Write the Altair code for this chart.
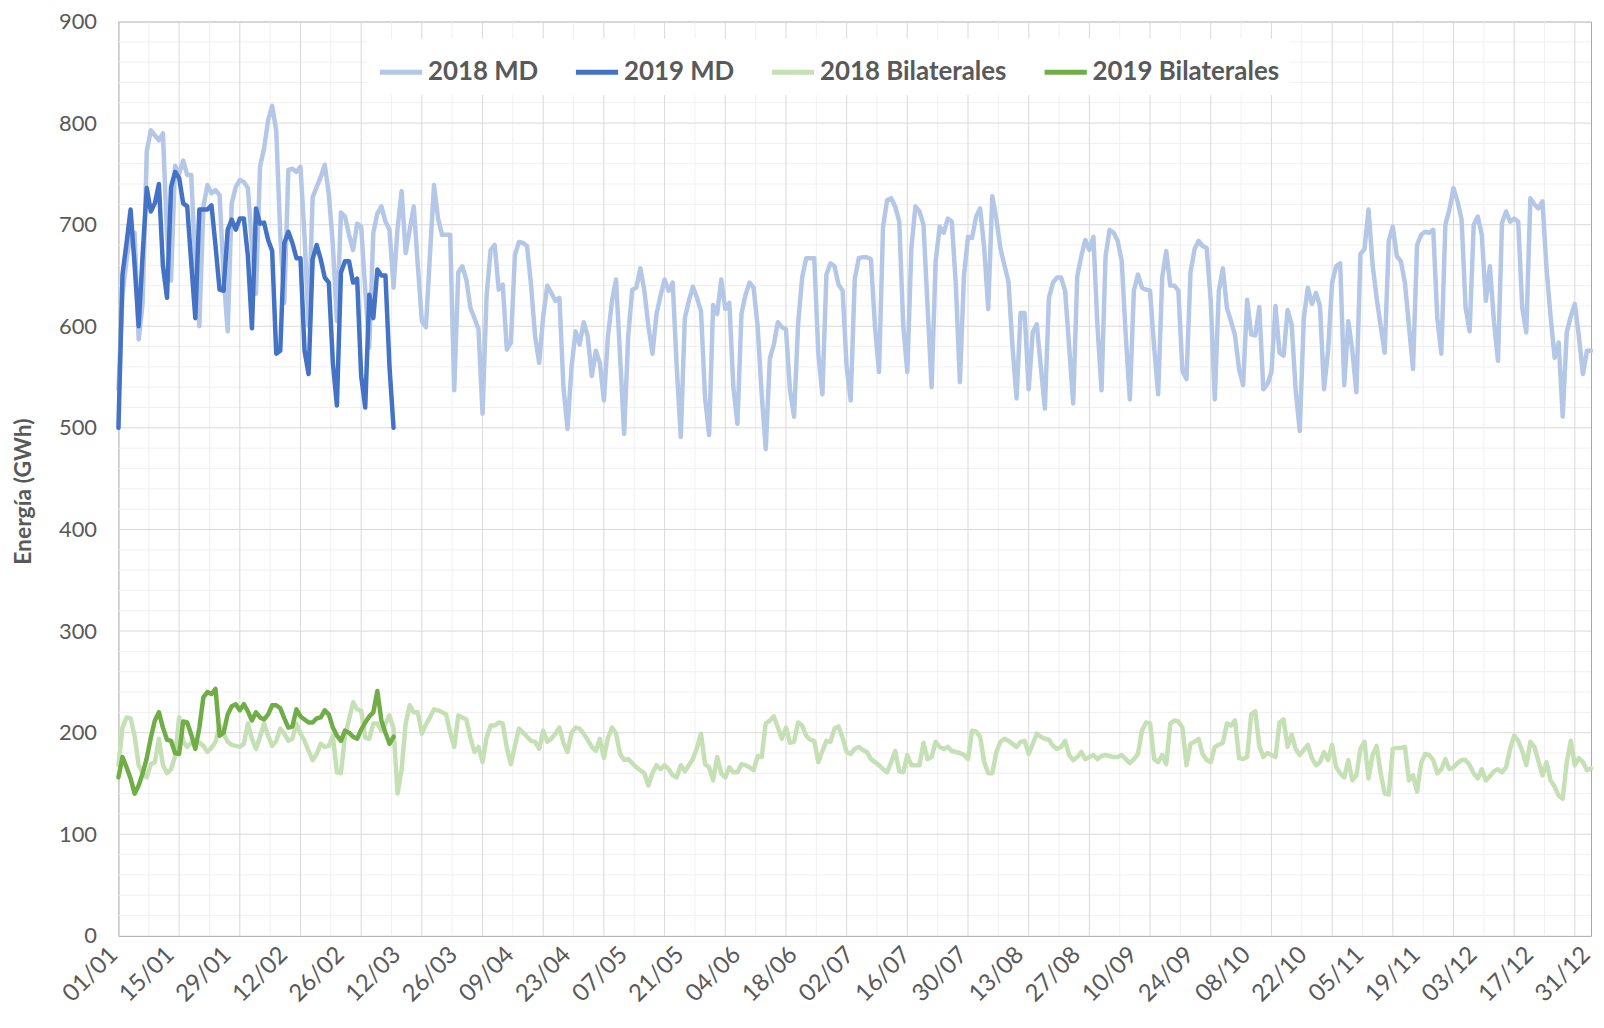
import altair as alt
import pandas as pd

# ---- data (one value per day, day 0 = 01/01) ----
md_2018 = [
    538, 630, 665, 690, 692, 587, 623, 772, 793, 788, 783, 790, 690, 645, 758, 750, 763, 749, 749, 660,
    600, 718, 739, 731, 734, 729, 649, 595, 721, 737, 744, 742, 736, 680, 632, 757, 775, 803, 817, 793,
    690, 623, 754, 755, 752, 757, 688, 600, 727, 737, 747, 759, 730, 680, 605, 712, 708, 690, 675, 701,
    698, 636, 579, 692, 711, 718, 703, 695, 638, 697, 733, 672, 695, 718, 660, 605, 599, 670, 739, 706,
    690, 690, 690, 537, 653, 659, 646, 618, 608, 597, 514, 630, 675, 680, 636, 641, 577, 584, 670, 683,
    682, 679, 640, 590, 564, 610, 640, 633, 625, 628, 540, 499, 560, 595, 582, 604, 590, 551, 576, 564,
    527, 590, 625, 646, 570, 494, 590, 636, 638, 657, 635, 600, 573, 612, 630, 646, 635, 643, 560, 491,
    608, 625, 639, 628, 615, 530, 493, 621, 612, 646, 617, 623, 540, 504, 612, 631, 643, 638, 600, 533,
    479, 568, 582, 604, 599, 597, 537, 511, 602, 648, 667, 667, 667, 573, 533, 651, 662, 659, 641, 635,
    560, 527, 646, 667, 668, 668, 666, 600, 555, 698, 724, 726, 718, 703, 600, 555, 677, 718, 713, 700,
    620, 540, 664, 698, 692, 706, 703, 640, 545, 650, 688, 687, 708, 716, 677, 617, 728, 706, 677, 660,
    644, 580, 529, 613, 613, 538, 594, 602, 560, 519, 628, 643, 648, 648, 635, 580, 524, 649, 669, 685,
    675, 688, 600, 537, 669, 695, 692, 684, 664, 590, 528, 635, 651, 638, 636, 635, 580, 533, 648, 674,
    640, 640, 635, 556, 548, 653, 676, 684, 679, 677, 625, 528, 635, 657, 618, 605, 591, 558, 542, 626,
    592, 591, 619, 538, 543, 555, 620, 574, 571, 616, 602, 537, 497, 608, 638, 622, 633, 620, 538, 576,
    643, 659, 662, 542, 605, 576, 535, 671, 676, 715, 661, 628, 600, 574, 684, 698, 669, 664, 643, 600,
    558, 680, 690, 693, 692, 695, 608, 573, 700, 715, 736, 723, 705, 618, 595, 700, 708, 690, 625, 659,
    605, 566, 702, 713, 703, 706, 703, 618, 594, 726, 720, 716, 723, 657, 610, 569, 584, 511, 594, 610,
    622, 590, 553, 576, 576,
]

md_2019 = [
    500, 651, 682, 715, 660, 600, 672, 736, 713, 721, 740, 659, 628, 737, 752, 746, 721, 718, 662, 608,
    715, 715, 715, 719, 679, 636, 635, 695, 705, 695, 706, 706, 669, 598, 716, 701, 702, 685, 674, 573,
    576, 682, 693, 682, 667, 667, 576, 553, 666, 680, 666, 648, 643, 564, 522, 653, 664, 664, 643, 647,
    551, 520, 631, 608, 656, 650, 650, 560, 500,
]

bil_2018 = [
    168, 205, 215, 214, 197, 168, 160, 156, 169, 171, 194, 168, 160, 164, 177, 215, 191, 186, 190, 192,
    190, 187, 181, 185, 191, 207, 199, 191, 188, 187, 186, 189, 209, 194, 184, 196, 209, 197, 187, 192,
    204, 199, 192, 194, 209, 199, 192, 182, 173, 179, 189, 186, 187, 197, 161, 160, 197, 213, 230, 223,
    222, 195, 194, 209, 209, 202, 209, 217, 204, 140, 164, 209, 227, 220, 220, 199, 208, 215, 223, 222,
    220, 218, 200, 186, 217, 215, 213, 195, 181, 186, 171, 195, 207, 207, 210, 209, 185, 169, 187, 204,
    200, 196, 192, 191, 184, 202, 191, 194, 199, 205, 190, 181, 200, 205, 204, 199, 193, 186, 182, 194,
    175, 195, 205, 199, 179, 173, 174, 170, 166, 163, 160, 148, 160, 168, 164, 168, 164, 158, 156, 168,
    162, 168, 174, 185, 199, 169, 166, 153, 176, 160, 156, 166, 161, 161, 169, 168, 166, 163, 177, 176,
    209, 212, 216, 205, 194, 205, 190, 191, 210, 207, 197, 193, 192, 171, 182, 192, 191, 204, 206, 195,
    181, 179, 184, 186, 183, 181, 174, 171, 168, 164, 161, 171, 182, 162, 161, 178, 168, 168, 168, 190,
    174, 176, 191, 186, 184, 186, 182, 181, 180, 178, 174, 202, 201, 196, 171, 160, 160, 181, 191, 194,
    192, 189, 186, 191, 192, 179, 189, 199, 196, 194, 193, 187, 184, 186, 192, 178, 173, 176, 181, 174,
    176, 178, 174, 177, 178, 177, 176, 176, 178, 174, 170, 174, 179, 202, 210, 209, 174, 171, 178, 169,
    209, 212, 211, 205, 168, 189, 191, 194, 179, 173, 171, 186, 188, 190, 209, 207, 212, 175, 174, 176,
    218, 221, 187, 176, 180, 178, 176, 210, 213, 186, 198, 184, 178, 183, 188, 175, 168, 171, 181, 173,
    188, 166, 160, 156, 173, 153, 158, 184, 191, 155, 178, 187, 160, 140, 139, 184, 185, 185, 186, 153,
    158, 142, 170, 179, 178, 173, 160, 164, 174, 164, 166, 170, 173, 173, 168, 160, 155, 164, 153, 157,
    162, 164, 161, 166, 184, 197, 192, 182, 168, 191, 186, 172, 158, 171, 153, 147, 138, 135, 171, 192,
    168, 175, 171, 163, 165,
]

bil_2019 = [
    156, 176, 166, 155, 140, 148, 160, 175, 195, 212, 220, 205, 193, 192, 180, 179, 211, 210, 198, 184,
    205, 235, 240, 238, 243, 197, 200, 218, 226, 228, 222, 228, 221, 212, 220, 215, 213, 218, 227, 227,
    224, 214, 205, 206, 223, 216, 213, 210, 210, 214, 215, 222, 218, 205, 197, 192, 202, 200, 196, 194,
    203, 210, 216, 220, 241, 212, 200, 189, 196,
]

series_names = ["2018 MD", "2019 MD", "2018 Bilaterales", "2019 Bilaterales"]
series_colors = ["#b4c7e7", "#4472c4", "#c5e0b4", "#70ad47"]
series_values = [md_2018, md_2019, bil_2018, bil_2019]

rows = []
for name, vals in zip(series_names, series_values):
    for d, v in enumerate(vals):
        rows.append({"day": d, "value": v, "series": name})
df = pd.DataFrame(rows)

# ---- styling ----
FONT = "Lato"
GREY = "#595959"
W, H = 1480, 919
x_scale = alt.Scale(domain=[0, 364], nice=False, zero=False)
y_scale = alt.Scale(domain=[0, 900], nice=False)

label_days = list(range(0, 365, 14))

x_axis = alt.Axis(
    values=label_days,
    labelExpr="timeFormat(datetime(2018, 0, 1 + datum.value), '%d/%m')",
    labelAngle=-45,
    labelAlign="right",
    labelBaseline="alphabetic",
    labelFont=FONT,
    labelFontSize=24,
    labelColor=GREY,
    labelPadding=20,
    ticks=False,
    grid=False,
    domain=False,
    title=None,
    labelOverlap=False,
    labelBound=False,
)
y_axis = alt.Axis(
    values=list(range(0, 901, 100)),
    labelFont=FONT,
    labelFontSize=22,
    labelColor=GREY,
    labelPadding=22,
    ticks=False,
    grid=False,
    domain=False,
    title="Energía (GWh)",
    titleFont=FONT,
    titleFontSize=23,
    titleFontWeight="bold",
    titleColor=GREY,
    titleX=-95,
    titleY=472,
    titleAngle=-90,
    titleAlign="center",
    titleBaseline="middle",
)

# gridlines (styling only)
h_minor = pd.DataFrame({"v": [v for v in range(0, 901, 20) if v % 100]})
h_major = pd.DataFrame({"v": list(range(100, 901, 100))})
v_minor = pd.DataFrame({"v": [k * 7.5 for k in range(1, 49, 2)]})
v_major = pd.DataFrame({"v": [k * 7.5 for k in range(2, 49, 2)]})

g1 = alt.Chart(h_minor).mark_rule(color="#f0f0f0", strokeWidth=1).encode(
    y=alt.Y("v:Q", scale=y_scale, axis=y_axis))
g2 = alt.Chart(v_minor).mark_rule(color="#f0f0f0", strokeWidth=1).encode(
    x=alt.X("v:Q", scale=x_scale, axis=x_axis))
g3 = alt.Chart(h_major).mark_rule(color="#d9d9d9", strokeWidth=1).encode(
    y=alt.Y("v:Q", scale=y_scale, axis=y_axis))
g4 = alt.Chart(v_major).mark_rule(color="#d9d9d9", strokeWidth=1).encode(
    x=alt.X("v:Q", scale=x_scale, axis=x_axis))

color = alt.Color(
    "series:N",
    scale=alt.Scale(domain=series_names, range=series_colors),
    legend=alt.Legend(
        title=None,
        orient="none",
        legendX=250,
        legendY=17,
        direction="horizontal",
        columns=4,
        columnPadding=27,
        symbolType="stroke",
        symbolSize=1800,
        symbolStrokeWidth=5,
        labelFont=FONT,
        labelFontSize=26,
        labelFontWeight="bold",
        labelColor=GREY,
        labelOffset=3,
        fillColor="white",
        padding=10,
        labelLimit=400,
    ),
)

x_enc = alt.X("day:Q", scale=x_scale, axis=x_axis)
y_enc = alt.Y("value:Q", scale=y_scale, axis=y_axis)

def line(name, width):
    return alt.Chart(df).transform_filter(
        alt.datum.series == name
    ).mark_line(strokeWidth=width, strokeJoin="round", strokeCap="round").encode(
        x=x_enc, y=y_enc, color=color, order="day:Q"
    )

chart = alt.layer(
    g1, g2, g3, g4,
    line("2018 MD", 4.5),
    line("2018 Bilaterales", 4.5),
    line("2019 MD", 4.5),
    line("2019 Bilaterales", 4.5),
).properties(
    width=W,
    height=H,
    autosize=alt.AutoSizeParams(type="none"),
    padding={"left": 111, "top": 11, "right": 5, "bottom": 80},
).configure_view(
    stroke="#a6a6a6", strokeWidth=1
)

chart.save("out.html", embed_options={"renderer": "svg", "actions": False})
